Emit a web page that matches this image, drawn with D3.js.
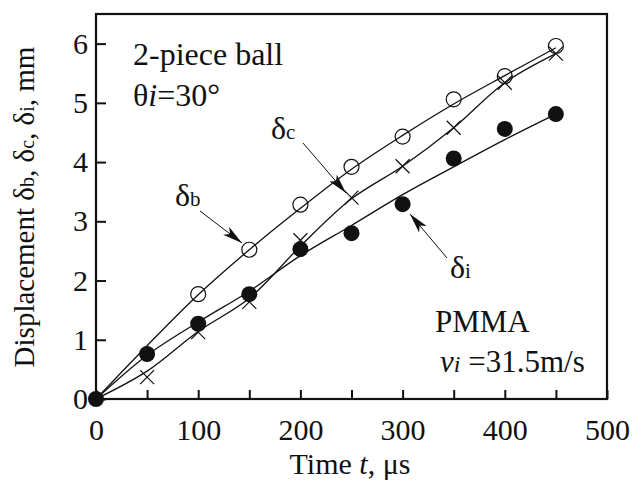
<!DOCTYPE html>
<html>
<head>
<meta charset="utf-8">
<script src="https://cdn.jsdelivr.net/npm/d3@7"></script>
<style>
  body { margin:0; background:#fff; }
  text { font-family:"Liberation Serif","Times New Roman",serif; fill:#111; }
</style>
</head>
<body>
<script>
// time, microseconds
var times = [0, 50, 100, 150, 200, 250, 300, 350, 400, 450];

// measured points (null = no marker)
var deltaB = [0, null, 1.77, 2.52, 3.28, 3.92, 4.43, 5.06, 5.45, 5.96];
var deltaC = [0, 0.37, 1.13, 1.64, 2.68, 3.40, 3.93, 4.58, 5.34, 5.83];
var deltaI = [0, 0.76, 1.27, 1.77, 2.53, 2.80, 3.29, 4.06, 4.56, 4.81];

// fitted curves drawn through the points
var fitB = [0, 0.90, 1.76, 2.52, 3.22, 3.88, 4.45, 4.98, 5.46, 5.93];
var fitC = [0, 0.47, 1.14, 1.70, 2.58, 3.38, 3.93, 4.58, 5.34, 5.83];
var fitI = [0, 0.74, 1.30, 1.82, 2.42, 2.93, 3.45, 3.92, 4.38, 4.81];

var xTicks = [0, 50, 100, 150, 200, 250, 300, 350, 400, 450, 500];
var xLabels = [0, 100, 200, 300, 400, 500];
var yTicks = [0, 1, 2, 3, 4, 5, 6];

var W = 638, H = 486;
var margin = {left:96, top:14, right:31, bottom:87};
var width = W - margin.left - margin.right;
var height = H - margin.top - margin.bottom;

var svg = d3.select("body").append("svg").attr("width", W).attr("height", H);

var defs = svg.append("defs");
defs.append("marker")
    .attr("id","arrow")
    .attr("viewBox","0 0 20 10")
    .attr("refX",20).attr("refY",5)
    .attr("markerWidth",20).attr("markerHeight",10)
    .attr("markerUnits","userSpaceOnUse")
    .attr("orient","auto")
    .append("path")
    .attr("d","M0,0 L20,5 L0,10 L5,5 Z")
    .attr("fill","#111");

var x = d3.scaleLinear().domain([0,500]).range([0,width]);
var y = d3.scaleLinear().domain([0,6.5]).range([height,0]);

var g = svg.append("g").attr("transform","translate("+margin.left+","+margin.top+")");

// axes with inward ticks
var xAxis = d3.axisBottom(x).tickValues(xTicks).tickSizeInner(-9).tickSizeOuter(0).tickPadding(20)
    .tickFormat(function(d){ return xLabels.indexOf(d) >= 0 ? d : ""; });
var yAxis = d3.axisLeft(y).tickValues(yTicks).tickSizeInner(-10).tickSizeOuter(0).tickPadding(8)
    .tickFormat(d3.format("d"));

var gx = g.append("g").attr("transform","translate(0,"+height+")").call(xAxis);
var gy = g.append("g").call(yAxis);
[gx, gy].forEach(function(a){
  a.select(".domain").remove();
  a.selectAll("line").attr("stroke","#111").attr("stroke-width",2);
  a.selectAll("text").style("font-size","30px").attr("fill","#111");
});

// frame
g.append("rect")
  .attr("x",0).attr("y",0).attr("width",width).attr("height",height)
  .attr("fill","none").attr("stroke","#111").attr("stroke-width",2.2);

// lines
var line = d3.line()
    .x(function(d){ return x(d[0]); })
    .y(function(d){ return y(d[1]); })
    .curve(d3.curveCatmullRom);

[fitB, fitC, fitI].forEach(function(f){
  g.append("path")
    .attr("d", line(times.map(function(t,i){ return [t, f[i]]; })))
    .attr("fill","none").attr("stroke","#111").attr("stroke-width",1.3);
});

function pts(arr){
  return times.map(function(t,i){ return [t, arr[i]]; }).filter(function(d){ return d[1] !== null; });
}

// crosses (delta c)
g.selectAll("path.cross").data(pts(deltaC).slice(1)).enter().append("path")
  .attr("class","cross")
  .attr("transform", function(d){ return "translate("+x(d[0])+","+y(d[1])+")"; })
  .attr("d","M-7,-7L7,7M-7,7L7,-7")
  .attr("stroke","#111").attr("stroke-width",1.2).attr("fill","none");

// open circles (delta b)
g.selectAll("circle.open").data(pts(deltaB).slice(1)).enter().append("circle")
  .attr("class","open")
  .attr("cx", function(d){ return x(d[0]); })
  .attr("cy", function(d){ return y(d[1]); })
  .attr("r",7.5).attr("fill","none").attr("stroke","#111").attr("stroke-width",1.2);

// filled circles (delta i)
g.selectAll("circle.fill").data(pts(deltaI)).enter().append("circle")
  .attr("class","fill")
  .attr("cx", function(d){ return x(d[0]); })
  .attr("cy", function(d){ return y(d[1]); })
  .attr("r",8).attr("fill","#111");

// axis titles
var yt = svg.append("text")
  .attr("transform","translate(34,207) rotate(-90)")
  .attr("text-anchor","middle")
  .style("font-size","29px");
yt.append("tspan").text("Displacement δ");
yt.append("tspan").style("font-size","20px").text("b");
yt.append("tspan").text(", δ");
yt.append("tspan").style("font-size","20px").text("c");
yt.append("tspan").text(", δ");
yt.append("tspan").style("font-size","20px").text("i");
yt.append("tspan").text(", mm");

var xt = svg.append("text")
  .attr("x",350).attr("y",474)
  .attr("text-anchor","middle")
  .style("font-size","30px");
xt.append("tspan").text("Time ");
xt.append("tspan").style("font-style","italic").text("t");
xt.append("tspan").text(", μs");

// annotations
svg.append("text").attr("x",133).attr("y",65).style("font-size","32px").text("2-piece ball");
var th = svg.append("text").attr("x",133).attr("y",106).style("font-size","32px");
th.append("tspan").text("θ");
th.append("tspan").style("font-style","italic").text("i");
th.append("tspan").text("=30°");

svg.append("text").attr("x",435).attr("y",332).style("font-size","31px").text("PMMA");
var vi = svg.append("text").attr("x",440).attr("y",372).style("font-size","31px");
vi.append("tspan").style("font-style","italic").text("v");
vi.append("tspan").style("font-style","italic").style("font-size","24px").text("i");
vi.append("tspan").text(" =31.5m/s");

function label(px, py, sub){
  var t = svg.append("text").attr("x",px).attr("y",py).style("font-size","32px");
  t.append("tspan").text("δ");
  t.append("tspan").style("font-size","21px").text(sub);
}
label(175,206,"b");
label(271,139,"c");
label(450,278,"i");

function arrow(x1,y1,x2,y2){
  svg.append("line")
    .attr("x1",x1).attr("y1",y1).attr("x2",x2).attr("y2",y2)
    .attr("stroke","#111").attr("stroke-width",1)
    .attr("marker-end","url(#arrow)");
}
arrow(200,211,242,243);
arrow(303,143,346,193);
arrow(447,258,410,214);
</script>
</body>
</html>
